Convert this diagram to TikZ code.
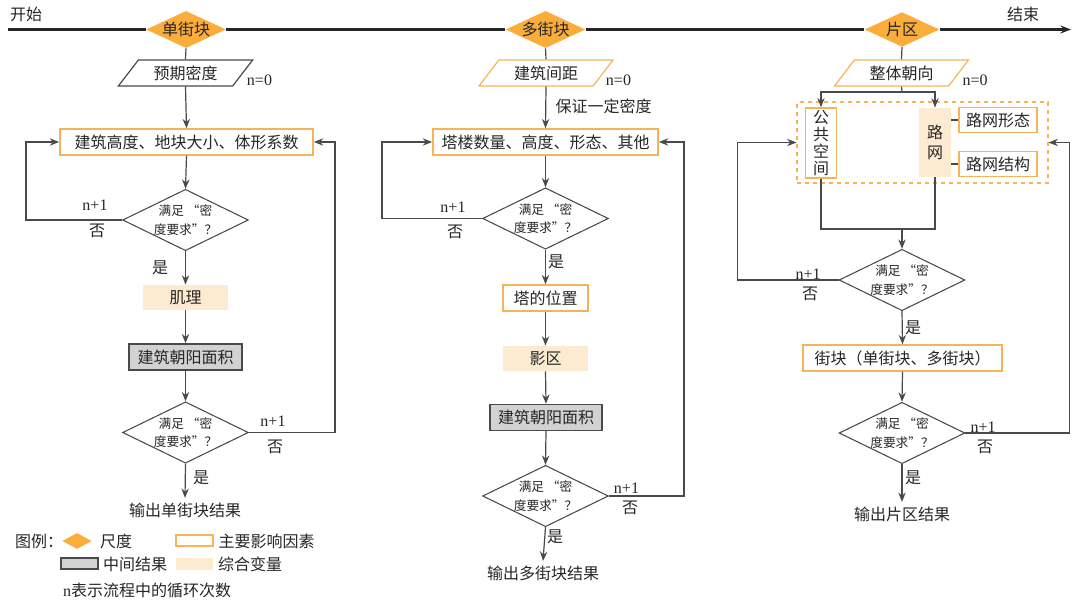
\documentclass[tikz,border=0pt]{standalone}
\usepackage{fontspec}
\setmainfont{Noto Sans CJK SC}
\newfontfamily\numfont{Liberation Serif}
\usetikzlibrary{shapes.geometric,arrows.meta}
\definecolor{myorange}{HTML}{FAAD3B}
\definecolor{myborder}{HTML}{F7B457}
\definecolor{mybeige}{HTML}{FDEBD1}
\definecolor{mygray}{HTML}{D2D2D2}
\definecolor{mydark}{HTML}{4A4A4A}
\tikzset{
  every node/.style={font=\fontsize{12}{14}\selectfont, text=black!85},
  stage/.style={diamond, fill=myorange, aspect=2.15, inner sep=0pt, minimum width=56pt, minimum height=26pt},
  inputbox/.style={trapezium, trapezium left angle=57, trapezium right angle=123,
    trapezium stretches=true, minimum width=101pt, minimum height=19.5pt, line width=0.9pt, fill=white},
  factor/.style={draw=myborder, line width=1.1pt, fill=white, minimum height=19.5pt, inner sep=2pt},
  combo/.style={fill=mybeige, minimum height=19pt, inner sep=2pt},
  result/.style={draw=mydark, fill=mygray, line width=1.1pt, minimum height=19.5pt, inner sep=2pt},
  check/.style={diamond, draw=mydark, line width=0.8pt, aspect=2.05, minimum width=92pt, minimum height=45pt,
    inner sep=0pt, align=center, font=\fontsize{9.5}{14}\selectfont},
  flow/.style={draw=mydark, line width=0.9pt, -{Stealth[length=7pt,width=5.5pt]}},
  link/.style={draw=mydark, line width=0.9pt},
  axis/.style={draw=black!85, line width=1.8pt},
  num/.style={font=\numfont\fontsize{12}{14}\selectfont},
}
\newcommand{\loopmark}[3]{
  \node[num] (#1n) at (#2) {n+1};
  \node (#1f) at (#3) {否};
}

\begin{document}
\begin{tikzpicture}[x=0.75pt, y=-0.75pt]
  \useasboundingbox (0,0) rectangle (1080,607);

  \node (start) at (26,14) {开始};
  \node (end) at (1023,14) {结束};
  \node[stage] (s1) at (186,29.5) {单街块};
  \node[stage] (s2) at (545.5,29.5) {多街块};
  \node[stage] (s3) at (902,29.5) {片区};
  \coordinate (t0) at (8,29.5);
  \coordinate (t1) at (1071,29.5);
  \draw[axis] (t0) -- (s1.west);
  \draw[axis] (s1.east) -- (s2.west);
  \draw[axis] (s2.east) -- (s3.west);
  \draw[axis, -{Stealth[length=8pt,width=6pt]}] (s3.east) -- (t1);

  % single block
  \node[inputbox, draw=mydark] (p1) at (185.5,73) {预期密度};
  \node[num] (n1) at (259.5,80) {n=0};
  \node[factor, minimum width=190pt] (b1) at (186.5,142) {建筑高度、地块大小、体形系数};
  \node[check] (d1) at (185.5,220) {满足 “密\\度要求”？};
  \node[combo, minimum width=64pt] (j1) at (185.5,297.5) {肌理};
  \node[result, minimum width=85pt] (g1) at (185.5,357) {建筑朝阳面积};
  \node[check] (d2) at (185.5,432.5) {满足 “密\\度要求”？};
  \node (o1) at (185,510) {输出单街块结果};
  \draw[link] (s1.south) -- (p1.north);
  \draw[flow] (p1.south) -- (b1.north);
  \draw[flow] (b1.south) -- (d1.north);
  \draw[flow] (d1.south) -- (j1.north);
  \draw[flow] (j1.south) -- (g1.north);
  \draw[flow] (g1.south) -- (d2.north);
  \draw[flow] (d2.south) -- (o1.north);
  \draw[flow] (d1.west) -- ++(-96,0) |- (b1.west);
  \draw[flow] (d2.east) -- ++(86,0) |- (b1.east);
  \loopmark{l1}{95,205}{97,231}
  \loopmark{l2}{273,421}{275,447}
  \node (y1) at (160,268) {是};
  \node (y2) at (201,478) {是};

  % multi block
  \node[inputbox, draw=myborder] (p2) at (546,73) {建筑间距};
  \node[num] (n2) at (618.5,80) {n=0};
  \node (keep) at (603.5,106) {保证一定密度};
  \node[factor, minimum width=169pt] (b2) at (545.5,142) {塔楼数量、高度、形态、其他};
  \node[check] (d3) at (545.5,218.5) {满足 “密\\度要求”？};
  \node[factor, minimum width=64pt] (t2) at (545.5,298) {塔的位置};
  \node[combo, minimum width=64pt] (z2) at (545.5,358.5) {影区};
  \node[result, minimum width=84pt] (g2) at (546,417.5) {建筑朝阳面积};
  \node[check] (d4) at (545.5,496) {满足 “密\\度要求”？};
  \node (o2) at (543,573) {输出多街块结果};
  \draw[link] (s2.south) -- (p2.north);
  \draw[flow] (p2.south) -- (b2.north);
  \draw[flow] (b2.south) -- (d3.north);
  \draw[flow] (d3.south) -- (t2.north);
  \draw[flow] (t2.south) -- (z2.north);
  \draw[flow] (z2.south) -- (g2.north);
  \draw[flow] (g2.south) -- (d4.north);
  \draw[flow] (d4.south) -- (o2.north);
  \draw[flow] (d3.west) -- ++(-100,0) |- (b2.west);
  \draw[flow] (d4.east) -- ++(75,0) |- (b2.east);
  \loopmark{l3}{453,207}{455,232}
  \loopmark{l4}{626.5,488}{630,508}
  \node (y3) at (556,262) {是};
  \node (y4) at (555,537) {是};

  % district
  \node[inputbox, draw=myborder] (p3) at (901.5,73) {整体朝向};
  \node[num] (n3) at (975,80) {n=0};
  \node[draw=myborder, dashed, line width=1.1pt, minimum width=188pt, minimum height=60.75pt] (zone) at (922.5,142.5) {};
  \node[factor, minimum width=23.5pt, minimum height=52.5pt, inner sep=1pt, align=center,
    font=\fontsize{12}{12.8}\selectfont] (gk) at (821,143) {公\\共\\空\\间};
  \node[combo, minimum width=23.5pt, minimum height=52pt, inner sep=1pt, align=center,
    font=\fontsize{12}{15}\selectfont] (lw) at (935,142.5) {路\\网};
  \node[factor, minimum width=58.5pt, minimum height=19pt] (lx) at (998,120) {路网形态};
  \node[factor, minimum width=58.5pt, minimum height=19pt] (lj) at (998,164) {路网结构};
  \node[check] (d5) at (902,280) {满足 “密\\度要求”？};
  \node[factor, minimum width=149pt] (jk) at (902.5,358) {街块（单街块、多街块）};
  \node[check] (d6) at (902,433) {满足 “密\\度要求”？};
  \node (o3) at (902,514) {输出片区结果};
  \coordinate (sp) at (902,92);
  \coordinate (mg) at (902,229);
  \draw[link] (s3.south) -- (p3.north);
  \draw[link] (p3.south) -- (sp);
  \draw[flow] (sp) -| (gk.north);
  \draw[flow] (sp) -| (lw.north);
  \draw[link] (lw.east |- lx) -- (lx.west);
  \draw[link] (lw.east |- lj) -- (lj.west);
  \draw[link] (gk.south) |- (mg) -| (lw.south);
  \draw[flow] (mg) -- (d5.north);
  \draw[flow] (d5.south) -- (jk.north);
  \draw[flow] (jk.south) -- (d6.north);
  \draw[flow] (d6.south) -- (o3.north);
  \draw[flow] (d5.west) -- ++(-101,0) |- (zone.west);
  \draw[flow] (d6.east) -- ++(104,0) |- (zone.east);
  \loopmark{l5}{808,274}{810,294}
  \loopmark{l6}{983,427}{985,447}
  \node (y5) at (913,328) {是};
  \node (y6) at (913,478) {是};

  % legend
  \node (lg) at (39,541) {图例：};
  \node[diamond, fill=myorange, minimum width=22pt, minimum height=12pt, inner sep=0pt] (lg1) at (77,541) {};
  \node (lg1t) at (116,541) {尺度};
  \node[factor, minimum width=27.5pt, minimum height=8.5pt, inner sep=0pt] (lg2) at (194.5,540.5) {};
  \node (lg2t) at (266.5,541) {主要影响因素};
  \node[result, minimum width=27.5pt, minimum height=8.5pt, inner sep=0pt] (lg3) at (79.5,563.5) {};
  \node (lg3t) at (135,564) {中间结果};
  \node[combo, minimum width=27.5pt, minimum height=9pt, inner sep=0pt] (lg4) at (194.5,564) {};
  \node (lg4t) at (250,564) {综合变量};
  \node (lg5) at (147,590) {{\numfont n}表示流程中的循环次数};
\end{tikzpicture}
\end{document}
